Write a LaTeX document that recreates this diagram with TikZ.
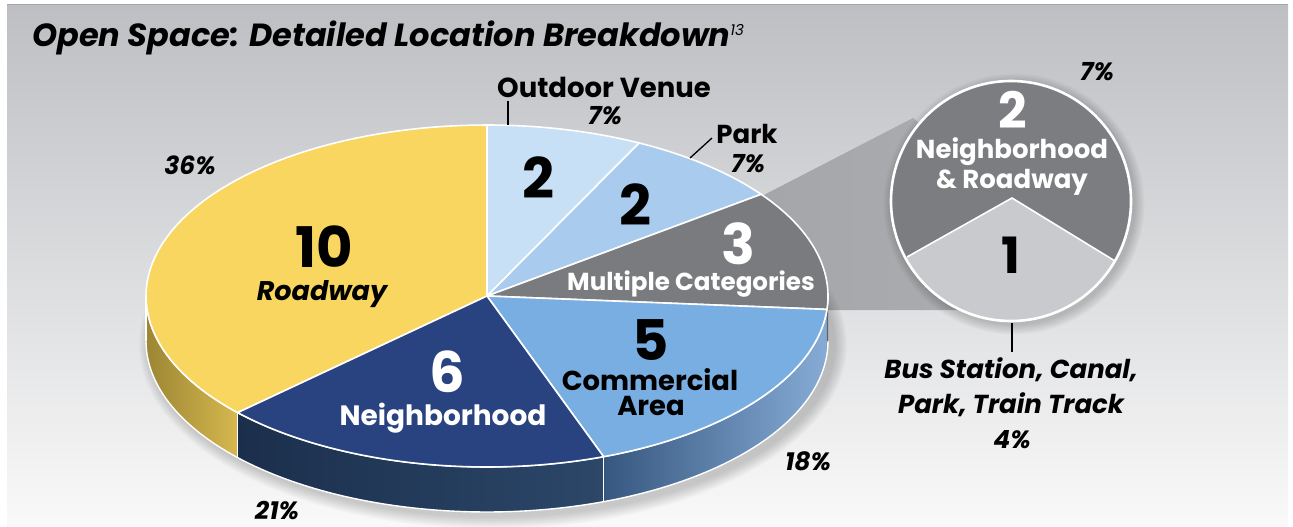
\documentclass[tikz,border=0pt]{standalone}
\usepackage{fontspec}
\setmainfont{Poppins}
\definecolor{bgtop}{HTML}{BDBFC3}
\definecolor{bgmid}{HTML}{D9D9DB}
\definecolor{bgbot}{HTML}{F9F9F9}
\definecolor{cyel}{HTML}{F9D660}
\definecolor{cout}{HTML}{C7E0F6}
\definecolor{cpark}{HTML}{A9CBEE}
\definecolor{cmult}{HTML}{7A7B7E}
\definecolor{ccom}{HTML}{79AEE2}
\definecolor{cnei}{HTML}{28437F}
\definecolor{syelA}{HTML}{9C8634}
\definecolor{syelB}{HTML}{D6B84E}
\definecolor{sneiA}{HTML}{1B2F4C}
\definecolor{sneiB}{HTML}{2C4769}
\definecolor{scomA}{HTML}{36577F}
\definecolor{scomB}{HTML}{86ACD6}
\definecolor{cdark}{HTML}{7C7D80}
\definecolor{clight}{HTML}{C9CACD}
\definecolor{wedA}{HTML}{9C9EA1}
\definecolor{wedB}{HTML}{ABADB0}
\def\cx{487}\def\cy{296}\def\rx{341}\def\ry{171}\def\th{45}
\newcommand\slicepath[2]{(\cx,\cy) -- plot[domain=#1:#2,samples=60] ({\cx+\rx*cos(\x)},{\cy-\ry*sin(\x)}) -- cycle}
\newcommand\sidepath[2]{plot[domain=#1:#2,samples=50] ({\cx+\rx*cos(\x)},{\cy-\ry*sin(\x)}) -- plot[domain=#2:#1,samples=50] ({\cx+\rx*cos(\x)},{\cy+\th-\ry*sin(\x)}) -- cycle}
\newcommand\fsz[1]{\fontsize{#1}{#1}\selectfont}
\tikzset{
  bignum/.style={font=\fsz{56}\bfseries, inner sep=0pt},
  midnum/.style={font=\fsz{50}\bfseries, inner sep=0pt},
  lab/.style={font=\fsz{26}\bfseries, inner sep=0pt},
  ilab/.style={font=\fsz{26}\bfseries\itshape, inner sep=0pt},
  pct/.style={font=\fsz{25}\bfseries\itshape, inner sep=0pt},
  slice/.style={draw=white, line width=1.6pt, line join=round},
  leader/.style={draw=black, line width=1.3pt}
}
\begin{document}
\begin{tikzpicture}[x=1pt,y=-1pt]
\useasboundingbox (0,0) rectangle (1293,527);
\fill[white] (0,0) rectangle (1293,527);
\shade[top color=bgtop, middle color=bgmid, bottom color=bgbot] (7,5) rectangle (1288,527);
\draw[gray!70, line width=0.8pt] (7,4.6) -- (1288,4.6);
% connecting wedge
\shade[left color=wedA, right color=wedB] (\cx,\cy) -- (760,197) -- (913,118) -- (1011,201) -- (1011,310) -- (\cx,310) -- cycle;
% soft shadows
\foreach \k in {1,...,8}{
  \fill[black, opacity=0.025] (\cx+6,\cy+\th+4) ellipse ({\rx+\k*1.6} and {\ry+\k*1.6});
  \fill[black, opacity=0.025] (1014,204) circle ({120+\k*1.3});
}
% pie sides
\shade[left color=syelA, right color=syelB] \sidepath{180}{223};
\shade[left color=sneiA, right color=sneiB] \sidepath{223}{290};
\shade[left color=scomA, right color=scomB] \sidepath{290}{355.5};
\fill[cdark!80!black] \sidepath{355.5}{360};
\draw[white, line width=1.4pt] plot[domain=180:360,samples=120] ({\cx+\rx*cos(\x)},{\cy+\th-\ry*sin(\x)});
\draw[white, line width=1.4pt] plot[domain=180:360,samples=120] ({\cx+\rx*cos(\x)},{\cy-\ry*sin(\x)});
\draw[white, line width=1.4pt] ({\cx+\rx*cos(223)},{\cy-\ry*sin(223)}) -- ++(0,\th);
\draw[white, line width=1.4pt] ({\cx+\rx*cos(290)},{\cy-\ry*sin(290)}) -- ++(0,\th);
\draw[white, line width=1.4pt] ({\cx-\rx},\cy) -- ++(0,\th);
% pie top
\fill[slice, fill=cyel] \slicepath{90}{223};
\fill[slice, fill=cout] \slicepath{63.5}{90};
\fill[slice, fill=cpark] \slicepath{36.5}{63.5};
\fill[slice, fill=cmult] \slicepath{-4.5}{36.5};
\fill[slice, fill=ccom] \slicepath{-70}{-4.5};
\fill[slice, fill=cnei] \slicepath{-137}{-70};
% pie labels
\node[bignum] (n10) at (324,247) {10};
\node[ilab, font=\fsz{27}\bfseries\itshape, anchor=base] (lroad) at (322,300) {Roadway};
\node[bignum] (n2a) at (538,178) {2};
\node[bignum] (n2b) at (635,205) {2};
\node[bignum, text=white] (n3) at (738,244) {3};
\node[lab, font=\fsz{24.6}\bfseries, text=white, anchor=base] (lmult) at (691,290) {Multiple Categories};
\node[bignum] (n5) at (651,340) {5};
\node[lab, font=\fsz{27.4}\bfseries, anchor=base] (lcom) at (650,390) {Commercial};
\node[lab, font=\fsz{27.4}\bfseries, anchor=base] (larea) at (651,415) {Area};
\node[bignum, text=white] (n6) at (447,372) {6};
\node[lab, font=\fsz{28}\bfseries, text=white, anchor=base] (lnei) at (443,425) {Neighborhood};
% percentages and outside labels
\node[pct] (p36) at (190,165) {36\%};
\node[pct] (p21) at (277,510) {21\%};
\node[pct] (p18) at (808,461) {18\%};
\node[lab, font=\fsz{27.5}\bfseries, anchor=base] (lout) at (604,97) {Outdoor Venue};
\node[pct] (p7a) at (605,116) {7\%};
\coordinate (ovA) at (508,101);
\coordinate (ovB) at (508,125);
\draw[leader] (ovA) -- (ovB);
\node[lab, anchor=base] (lpark) at (747,143) {Park};
\node[pct] (p7b) at (748,164) {7\%};
\coordinate (pkA) at (690,158);
\coordinate (pkB) at (712,138);
\draw[leader] (pkA) -- (pkB);
% breakout circle
\coordinate (cc) at (1011,201);
\fill[cdark] (cc) circle (120);
\fill[clight] (907,257) -- (1012,198) -- (1115,261) arc[start angle=30, end angle=150, radius=120] -- cycle;
\draw[white, line width=1.6pt] (907,257) -- (1012,198) -- (1115,261);
\draw[white, line width=2.6pt] (cc) circle (120);
\node[midnum, text=white] (c2) at (1013,110) {2};
\node[lab, text=white, anchor=base] (cnb) at (1012,158) {Neighborhood};
\node[lab, text=white, anchor=base] (crw) at (1012,188) {\& Roadway};
\node[midnum] (c1) at (1011,255) {1};
\node[pct] (p7c) at (1097,72) {7\%};
\coordinate (bsA) at (1012,323);
\coordinate (bsB) at (1012,352);
\draw[leader] (bsA) -- (bsB);
\node[ilab, anchor=base] (lbus1) at (1011,378) {Bus Station, Canal,};
\node[ilab, anchor=base] (lbus2) at (1011,413) {Park, Train Track};
\node[pct] (p4) at (1012,440) {4\%};
% title
\node[anchor=base west, inner sep=0pt, font=\fsz{32}\bfseries\itshape] (title) at (32,47) {Open Space: Detailed Location Breakdown\raisebox{11pt}{\fsz{15}\mdseries 13}};
\end{tikzpicture}
\end{document}
